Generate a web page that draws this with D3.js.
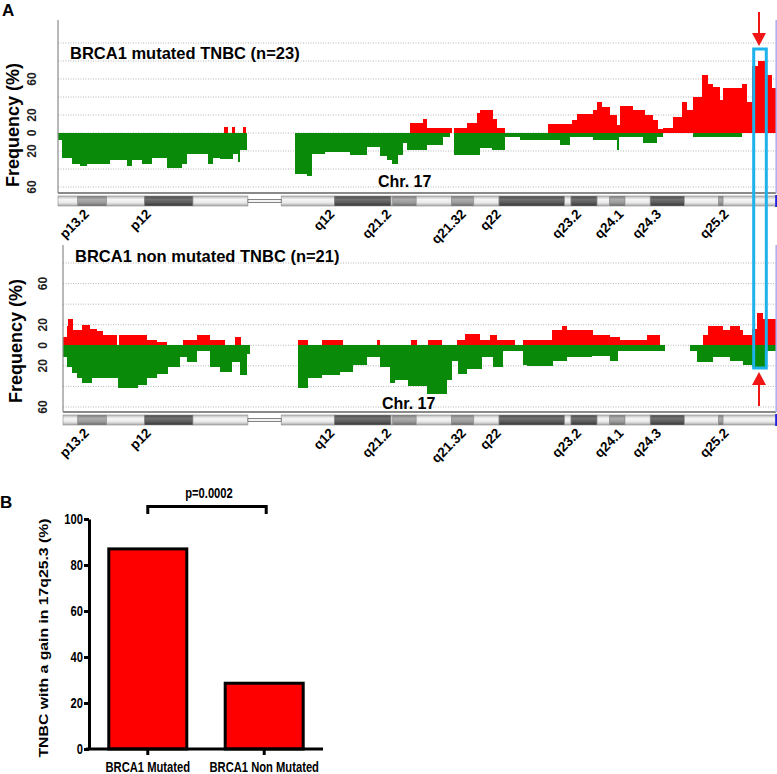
<!DOCTYPE html>
<html>
<head>
<meta charset="utf-8">
<script src="https://cdn.jsdelivr.net/npm/d3@7"></script>
<style>
  body { margin: 0; background: #fff; }
  text { font-family: "Liberation Sans", Arial, sans-serif; }
</style>
</head>
<body>
<div id="chart"></div>
<script>
// ---- chromosome 17 frequency profiles (position in Mb, frequency in %) ----
// breakpoints: n+1 positions for n values; each value holds until the next position
const mutGainPos = [0, 18.4, 18.9, 19.3, 19.7, 20.6, 20.9, 39.1, 40.6, 41.0, 43.8, 44.0, 45.4, 46.6, 46.9, 48.3, 48.8, 49.7,
  54.4, 57.1, 57.7, 59.4, 59.9, 60.4, 61.3, 62.1, 62.4, 63.9, 65.2, 66.1, 66.7, 67.2, 68.3, 69.3, 69.9, 70.6, 71.6, 72.2,
  72.8, 73.6, 73.9, 76.0, 76.6, 77.1, 77.8, 78.8, 79.3, 79.8];
const mutGain = [0, 7, 0, 7, 0, 7, 0, 11, 16, 6, 0, 6, 11, 22, 26, 16, 6, 0,
  10, 14, 21, 26, 35, 29, 20, 9, 30, 26, 20, 14, 5, 6, 18, 35, 26, 40, 64, 55,
  51, 37, 50, 55, 35, 74, 80, 64, 50];

const mutLossPos = [0, 0.4, 1.6, 2.4, 3.2, 5.8, 7.7, 8.2, 9.3, 10.4, 12.1, 13.8, 14.3, 16.7, 17.2, 18.0, 19.4, 20.0, 20.2, 21.0,
  26.3, 27.7, 28.2, 29.7, 32.4, 34.3, 35.8, 36.6, 37.1, 37.8, 38.3, 38.8, 41.0, 42.8, 43.6, 44.0, 46.9, 48.2, 49.7, 51.3,
  55.8, 56.9, 59.4, 62.1, 62.3, 65.0, 66.6, 67.2, 70.6, 76.0, 79.8];
const mutLoss = [8, 28, 34, 37, 34, 30, 37, 30, 34, 28, 39, 34, 23, 34, 28, 29, 23, 32, 19, 0,
  45, 48, 23, 21, 24, 15, 26, 30, 34, 24, 11, 19, 13, 4, 0, 24, 17, 19, 4, 8,
  13, 4, 8, 19, 4, 11, 4, 0, 4, 0];

const nonGainPos = [0.6, 1.0, 1.1, 1.7, 2.7, 3.6, 4.3, 5.0, 6.6, 6.8, 9.9, 11.0, 12.1, 13.9, 15.4, 16.9, 18.6, 19.7, 20.3, 26.7,
  27.8, 29.3, 31.7, 35.4, 35.8, 39.2, 39.9, 41.1, 42.7, 44.3, 45.2, 46.9, 48.0, 48.8, 50.8, 51.7, 54.9, 56.0, 56.6, 59.4,
  61.3, 62.4, 65.4, 66.9, 71.7, 72.2, 73.9, 74.7, 75.8, 76.1, 77.1, 77.7, 78.3, 79.8];
const nonGain = [8, 19, 26, 15, 20, 16, 14, 10, 0, 10, 5, 3, 0, 5, 10, 5, 0, 8, 0, 5,
  0, 5, 0, 5, 0, 5, 0, 5, 0, 5, 11, 5, 10, 5, 0, 5, 15, 19, 15, 10,
  8, 5, 10, 0, 10, 19, 15, 19, 15, 10, 16, 31, 26];

const nonLossPos = [0.6, 1.0, 1.6, 2.1, 2.7, 3.8, 6.7, 8.9, 9.9, 11.0, 12.2, 13.6, 14.3, 15.4, 16.9, 18.0, 19.3, 20.2, 21.0, 21.3,
  26.7, 27.8, 29.3, 31.3, 32.8, 34.3, 35.8, 36.9, 37.4, 38.9, 41.0, 43.2, 43.8, 44.4, 45.4, 47.1, 48.3, 49.4, 51.7, 52.1,
  55.0, 56.6, 59.3, 61.3, 62.2, 67.4, 70.2, 71.0, 72.8, 74.7, 76.1, 77.1, 78.8, 79.8];
const nonLoss = [11, 21, 27, 32, 37, 32, 42, 39, 32, 28, 21, 11, 16, 6, 21, 26, 16, 29, 8, 0,
  42, 32, 29, 26, 19, 11, 21, 37, 34, 40, 47, 34, 15, 28, 23, 11, 21, 6, 19, 20,
  15, 11, 10, 15, 6, 0, 6, 16, 11, 15, 19, 21, 6];

// ideogram bands
const bandPos = [0, 2.2, 5.4, 9.6, 15.0, 21.1, 24.8, 30.7, 37.0, 37.2, 39.8, 43.7, 46.2, 49.0, 56.3, 57.0, 59.9, 61.3,
  63.0, 65.8, 69.6, 73.4, 73.9, 79.8];
const bandStain = ["gneg", "gpos50", "gneg", "gpos100", "gneg", "acen", "gneg", "gpos100", "gneg", "gpos50", "gneg", "gpos50",
  "gneg", "gpos100", "gneg", "gpos100", "gneg", "gpos50", "gneg", "gpos100", "gneg", "gpos50", "gneg"];
const bandLabels = ["p13.2", "p12", "q12", "q21.2", "q21.32", "q22", "q23.2", "q24.1", "q24.3", "q25.2"];
const bandLabelPos = [3.3, 10.2, 30.6, 36.9, 45.2, 49.1, 58.0, 62.7, 66.9, 74.4];

const gridLevels = [100, 80, 60, 40, 20, 0, -20, -40, -60];
const freqTicks = [60, 20, 0, -20, -60];
const highlight = [77.3, 78.7]; // 17q25.3

// ---- panel B ----
const groups = ["BRCA1 Mutated", "BRCA1 Non Mutated"];
const gainPct = [87.0, 28.6];
const bTicks = [0, 20, 40, 60, 80, 100];
const pLabel = "p=0.0002";

const W = 777, H = 774;
const svg = d3.select("#chart").append("svg").attr("width", W).attr("height", H).style("background", "#fff");

const defs = svg.append("defs");
function grad(id, stops) {
  const g = defs.append("linearGradient").attr("id", id)
    .attr("x1", 0).attr("y1", 0).attr("x2", 0).attr("y2", 1);
  stops.forEach(s => g.append("stop").attr("offset", s[0]).attr("stop-color", s[1]));
}
grad("gneg", [[0, "#b8b8b8"], [0.35, "#f4f4f4"], [0.65, "#ebebeb"], [1, "#ababab"]]);
grad("gpos50", [[0, "#7a7a7a"], [0.35, "#acacac"], [0.65, "#9c9c9c"], [1, "#6a6a6a"]]);
grad("gpos100", [[0, "#4a4a4a"], [0.35, "#707070"], [0.65, "#5c5c5c"], [1, "#333"]]);

// squeeze text to mimic the condensed face of panel B
function condense(sel, k) {
  sel.each(function () {
    let w = this.getComputedTextLength();
    d3.select(this).attr("textLength", w * k).attr("lengthAdjust", "spacingAndGlyphs");
  });
}

let x = d3.scaleLinear().domain([0, 80]).range([58, 778]);

let panels = [
  { title: "BRCA1 mutated TNBC (n=23)", gainPos: mutGainPos, gain: mutGain, lossPos: mutLossPos, loss: mutLoss,
    left: 58, top: 20, base: 193, yDomain: [-60, 100], yRange: [187, 43], titleY: 59,
    tickX: 36, freqX: 19, freqY: 125, chrX: 378, chrY: 187, ideoY: 196 },
  { title: "BRCA1 non mutated TNBC (n=21)", gainPos: nonGainPos, gain: nonGain, lossPos: nonLossPos, loss: nonLoss,
    left: 63, top: 245, base: 412, yDomain: [-60, 80], yRange: [407, 263], titleY: 262,
    tickX: 47, freqX: 22, freqY: 341, chrX: 382, chrY: 409, ideoY: 415 }
];

// label "A"
svg.append("text").attr("x", 2).attr("y", 16).attr("font-size", 17).attr("font-weight", "bold").text("A");

panels.forEach(function (p) {
  let y = d3.scaleLinear().domain(p.yDomain).range(p.yRange);
  let g = svg.append("g");
  let right = x(79.8);

  // dotted grid
  g.selectAll(".grid").data(gridLevels.filter(v => v >= p.yDomain[0] && v <= p.yDomain[1]))
    .join("line").attr("class", "grid")
    .attr("x1", p.left).attr("x2", right)
    .attr("y1", d => y(d)).attr("y2", d => y(d))
    .attr("stroke", "#b5b5b5").attr("stroke-width", 1).attr("stroke-dasharray", "1,1.5");

  // gains (red, up) and losses (green, down)
  function steps(pos, vals, sign, color) {
    let segs = vals.map((v, i) => ({ x0: pos[i], x1: pos[i + 1], v: v })).filter(d => d.v > 0);
    g.selectAll(null).data(segs).join("rect")
      .attr("x", d => x(d.x0))
      .attr("width", d => x(d.x1) - x(d.x0))
      .attr("y", d => sign > 0 ? y(d.v) : y(0))
      .attr("height", d => Math.abs(y(sign * d.v) - y(0)))
      .attr("fill", color)
      .attr("shape-rendering", "crispEdges");
  }
  steps(p.lossPos, p.loss, -1, "#098a09");
  steps(p.gainPos, p.gain, 1, "#ff0000");

  // axes lines
  g.append("line").attr("x1", p.left).attr("x2", p.left).attr("y1", p.top).attr("y2", p.base)
    .attr("stroke", "#8a8a8a").attr("stroke-width", 1.2);
  g.append("line").attr("x1", p.left).attr("x2", right).attr("y1", p.base).attr("y2", p.base)
    .attr("stroke", "#8a8a8a").attr("stroke-width", 2);
  g.append("line").attr("x1", right).attr("x2", right).attr("y1", p.top).attr("y2", p.base)
    .attr("stroke", "#aaaaf4").attr("stroke-width", 1.5);

  // y tick labels (rotated)
  g.selectAll(".tk").data(freqTicks).join("text").attr("class", "tk")
    .attr("transform", d => `translate(${p.tickX},${y(d)}) rotate(-90)`)
    .attr("text-anchor", "middle").attr("font-size", 12).attr("font-weight", "bold").attr("fill", "#222")
    .text(d => Math.abs(d));
  g.append("text")
    .attr("transform", `translate(${p.freqX},${p.freqY}) rotate(-90)`)
    .attr("text-anchor", "middle").attr("font-size", 18).attr("font-weight", "bold")
    .text("Frequency (%)");

  g.append("text").attr("x", p.left + 12).attr("y", p.titleY)
    .attr("font-size", 16.5).attr("font-weight", "bold").text(p.title);
  g.append("text").attr("x", p.chrX).attr("y", p.chrY)
    .attr("font-size", 16).attr("font-weight", "bold").text("Chr. 17");

  // ideogram
  let ih = 10;
  let bands = bandStain.map((s, i) => ({ s: s, x0: Math.max(x(bandPos[i]), p.left), x1: x(bandPos[i + 1]) }));
  g.selectAll(null).data(bands.filter(b => b.s !== "acen")).join("rect")
    .attr("x", b => b.x0).attr("width", b => b.x1 - b.x0)
    .attr("y", p.ideoY).attr("height", ih)
    .attr("fill", b => `url(#${b.s})`)
    .attr("stroke", "#8c8c8c").attr("stroke-width", 0.6);
  g.selectAll(null).data(bands.filter(b => b.s === "acen")).join("rect")
    .attr("x", b => b.x0).attr("width", b => b.x1 - b.x0)
    .attr("y", p.ideoY + 3.5).attr("height", 3)
    .attr("fill", "#f4f4f4").attr("stroke", "#666").attr("stroke-width", 0.8);
  g.append("rect").attr("x", right - 1).attr("y", p.ideoY - 1).attr("width", 2.5).attr("height", ih + 2)
    .attr("fill", "#1f1fe0");

  g.selectAll(".bl").data(bandLabels).join("text").attr("class", "bl")
    .attr("transform", (d, i) => `translate(${x(bandLabelPos[i]) + 2},${p.ideoY + ih + 9}) rotate(-45)`)
    .attr("text-anchor", "end").attr("font-size", 13.5).attr("font-weight", "bold")
    .text(d => d);
});

// highlight box + arrows for 17q25.3
let hx0 = x(highlight[0]), hx1 = x(highlight[1]), hmid = (hx0 + hx1) / 2 - 1;
svg.append("rect").attr("x", hx0).attr("y", 49).attr("width", hx1 - hx0).attr("height", 319)
  .attr("fill", "none").attr("stroke", "#1db2ec").attr("stroke-width", 3);
svg.append("line").attr("x1", hmid).attr("x2", hmid).attr("y1", 12).attr("y2", 36)
  .attr("stroke", "#f01616").attr("stroke-width", 2);
svg.append("path").attr("d", `M${hmid - 7},33L${hmid + 7},33L${hmid},46Z`).attr("fill", "#f01616");
svg.append("line").attr("x1", hmid).attr("x2", hmid).attr("y1", 382).attr("y2", 406)
  .attr("stroke", "#f01616").attr("stroke-width", 2);
svg.append("path").attr("d", `M${hmid - 7},385L${hmid + 7},385L${hmid},372Z`).attr("fill", "#f01616");

// ---- panel B: bar chart ----
svg.append("text").attr("x", 0).attr("y", 508).attr("font-size", 17).attr("font-weight", "bold").text("B");

let yB = d3.scaleLinear().domain([0, 100]).range([749, 519]);
let xB = d3.scaleBand().domain(groups).range([89, 323]).paddingInner(0.33).paddingOuter(0.17);
let gB = svg.append("g");

gB.selectAll(".bar").data(groups).join("rect").attr("class", "bar")
  .attr("x", d => xB(d)).attr("width", xB.bandwidth())
  .attr("y", (d, i) => yB(gainPct[i])).attr("height", (d, i) => yB(0) - yB(gainPct[i]))
  .attr("fill", "#ff0000").attr("stroke", "#000").attr("stroke-width", 3);

let yAx = gB.append("g").attr("transform", "translate(89,0)")
  .call(d3.axisLeft(yB).tickValues(bTicks).tickSize(5).tickSizeOuter(0).tickPadding(1));
let xAx = gB.append("g").attr("transform", "translate(0,749)")
  .call(d3.axisBottom(xB).tickSize(6).tickSizeOuter(0).tickPadding(7));
xAx.select(".domain").attr("d", "M86,0H323");
[yAx, xAx].forEach(a => {
  a.selectAll("path, line").attr("stroke", "#000").attr("stroke-width", 3);
  a.selectAll("text").attr("font-size", 14).attr("font-weight", "bold").attr("fill", "#000")
    .attr("font-family", "'Liberation Sans', Arial, sans-serif");
  condense(a.selectAll("text"), 0.8);
});

let c0 = xB(groups[0]) + xB.bandwidth() / 2, c1 = xB(groups[1]) + xB.bandwidth() / 2;
gB.append("path").attr("d", `M${c0},514V506.5H${c1 + 2}V514`)
  .attr("fill", "none").attr("stroke", "#000").attr("stroke-width", 3);
let pt = gB.append("text").attr("x", (c0 + c1) / 2 + 3).attr("y", 498)
  .attr("text-anchor", "middle").attr("font-size", 14).attr("font-weight", "bold").text(pLabel);
condense(pt, 0.8);

gB.append("text").attr("transform", "translate(48,638) rotate(-90)")
  .attr("text-anchor", "middle").attr("font-size", 12.5).attr("font-weight", "bold")
  .attr("textLength", 239).attr("lengthAdjust", "spacingAndGlyphs")
  .text("TNBC with a gain in 17q25.3 (%)");
</script>
</body>
</html>
